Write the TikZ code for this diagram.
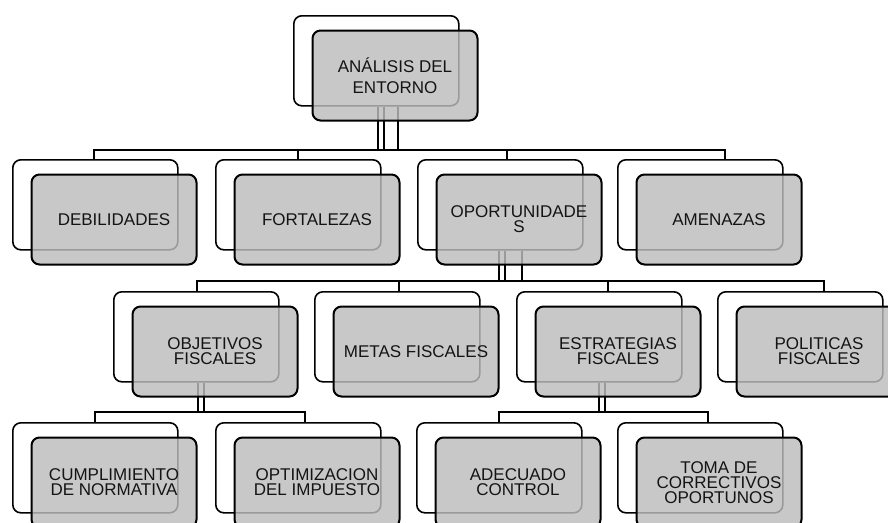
\documentclass[tikz,border=0pt]{standalone}
\usepackage{fontspec}
\setmainfont{Liberation Sans}
\definecolor{boxgray}{RGB}{188,188,188}
\definecolor{txtgray}{RGB}{20,20,20}
\tikzset{
  backbox/.style={draw=black, line width=1.6pt, fill=white, rounded corners=8pt,
    minimum width=165pt, minimum height=90pt, inner sep=0pt, anchor=north west},
  frontbox/.style={draw=black, line width=2pt, fill=boxgray, fill opacity=0.82,
    text opacity=1, draw opacity=1, rounded corners=8pt,
    minimum width=165pt, minimum height=90pt, inner sep=0pt, anchor=north west,
    align=center, text=txtgray, font=\fontsize{17pt}{15pt}\selectfont},
  conn/.style={draw=black, line width=1.6pt},
}
\begin{document}
\begin{tikzpicture}[x=1pt,y=-1pt]
\useasboundingbox (0,0) rectangle (888,522);
\clip (0,0) rectangle (888,522);
\fill[white] (0,0) rectangle (888,522);

% back boxes
\node[backbox] (b-top) at (293,15) {};
\node[backbox] (b-deb) at (12,159) {};
\node[backbox] (b-for) at (215,159) {};
\node[backbox] (b-opo) at (417,159) {};
\node[backbox] (b-ame) at (617,159) {};
\node[backbox] (b-obj) at (113,291) {};
\node[backbox] (b-met) at (314,291) {};
\node[backbox] (b-est) at (516,291) {};
\node[backbox] (b-pol) at (717,291) {};
\node[backbox] (b-cum) at (12,422) {};
\node[backbox] (b-opt) at (215,422) {};
\node[backbox] (b-ade) at (416,422) {};
\node[backbox] (b-tom) at (617,422) {};

\coordinate (bar1) at (0,150);
\coordinate (bar2) at (0,281);
\coordinate (bar3) at (0,412);

% level 0 -> level 1
\foreach \dx in {1.5,7.5,21.5}
  \draw[conn] ([xshift=\dx pt]b-top.south) -- ([xshift=\dx pt]b-top.south |- bar1);
\draw[conn] ([xshift=-1.5pt]b-deb.north) -- ([xshift=-1.5pt]b-deb.north |- bar1)
  -- ([xshift=24.5pt]b-ame.north |- bar1) -- ([xshift=24.5pt]b-ame.north);
\draw[conn] ([xshift=-0.5pt]b-for.north) -- ([xshift=-0.5pt]b-for.north |- bar1);
\draw[conn] ([xshift=6.5pt]b-opo.north) -- ([xshift=6.5pt]b-opo.north |- bar1);

% level 1 -> level 2
\foreach \dx in {-1.5,4.5,21.5}
  \draw[conn] ([xshift=\dx pt]b-opo.south) -- ([xshift=\dx pt]b-opo.south |- bar2);
\draw[conn] ([xshift=0.5pt]b-obj.north) -- ([xshift=0.5pt]b-obj.north |- bar2)
  -- ([xshift=23.5pt]b-pol.north |- bar2) -- ([xshift=23.5pt]b-pol.north);
\draw[conn] ([xshift=1.5pt]b-met.north) -- ([xshift=1.5pt]b-met.north |- bar2);
\draw[conn] ([xshift=8.5pt]b-est.north) -- ([xshift=8.5pt]b-est.north |- bar2);

% level 2 -> level 3
\foreach \dx in {1.5,7.5}
  \draw[conn] ([xshift=\dx pt]b-obj.south) -- ([xshift=\dx pt]b-obj.south |- bar3);
\draw[conn] ([xshift=-0.5pt]b-cum.north) -- ([xshift=-0.5pt]b-cum.north |- bar3)
  -- ([xshift=6.5pt]b-opt.north |- bar3) -- ([xshift=6.5pt]b-opt.north);
\foreach \dx in {-0.5,5.5}
  \draw[conn] ([xshift=\dx pt]b-est.south) -- ([xshift=\dx pt]b-est.south |- bar3);
\draw[conn] ([xshift=-0.5pt]b-ade.north) -- ([xshift=-0.5pt]b-ade.north |- bar3)
  -- ([xshift=7.5pt]b-tom.north |- bar3) -- ([xshift=7.5pt]b-tom.north);

% front boxes
\node[frontbox, font=\fontsize{17pt}{21pt}\selectfont] (f-top) at (311.5,29.5) {ANÁLISIS DEL\\ENTORNO};
\node[frontbox] (f-deb) at (30.5,173.5) {DEBILIDADES};
\node[frontbox] (f-for) at (233.5,173.5) {FORTALEZAS};
\node[frontbox] (f-opo) at (435.5,173.5) {OPORTUNIDADE\\S};
\node[frontbox] (f-ame) at (635.5,173.5) {AMENAZAS};
\node[frontbox] (f-obj) at (131.5,305.5) {OBJETIVOS\\FISCALES};
\node[frontbox] (f-met) at (332.5,305.5) {METAS FISCALES};
\node[frontbox] (f-est) at (534.5,305.5) {ESTRATEGIAS\\FISCALES};
\node[frontbox] (f-pol) at (735.5,305.5) {POLITICAS\\FISCALES};
\node[frontbox] (f-cum) at (30.5,436.5) {CUMPLIMIENTO\\DE NORMATIVA};
\node[frontbox] (f-opt) at (233.5,436.5) {OPTIMIZACION\\DEL IMPUESTO};
\node[frontbox] (f-ade) at (434.5,436.5) {ADECUADO\\CONTROL};
\node[frontbox] (f-tom) at (635.5,436.5) {TOMA DE\\CORRECTIVOS\\OPORTUNOS};
\end{tikzpicture}
\end{document}
